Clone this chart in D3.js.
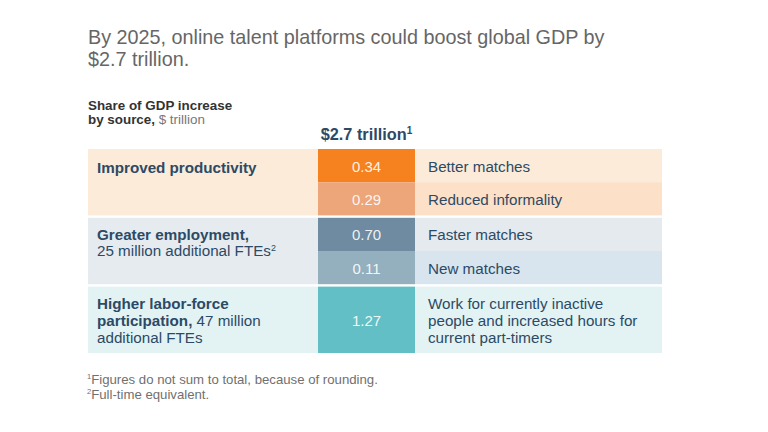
<!DOCTYPE html>
<html><head><meta charset="utf-8">
<script src="https://cdn.jsdelivr.net/npm/d3@7"></script>
<style>
body{margin:0;background:#fff;}
svg{display:block;font-family:"Liberation Sans",Arial,Helvetica,sans-serif;}
</style></head><body>
<svg id="c" width="768" height="432"></svg>
<script>
// ---- data ----
const groups = ["Improved productivity", "Greater employment", "Higher labor-force participation"];
const groupLabelLines = [
  [[{t:"Improved productivity", b:true}]],
  [[{t:"Greater employment,", b:true}], [{t:"25 million additional FTEs", b:false}, {t:"2", b:false, sup:true}]],
  [[{t:"Higher labor-force", b:true}], [{t:"participation,", b:true}, {t:" 47 million", b:false}], [{t:"additional FTEs", b:false}]]
];
const sources = ["Better matches", "Reduced informality", "Faster matches", "New matches",
  "Work for currently inactive|people and increased hours for|current part-timers"];
const sourceGroup = [0, 0, 1, 1, 2];
const values = [0.34, 0.29, 0.70, 0.11, 1.27];
const total = "$2.7 trillion";
const footnotes = ["Figures do not sum to total, because of rounding.", "Full-time equivalent."];

// ---- style ----
const groupBg = ["#fdebd9", "#e6ebf0", "#e3f3f4"];
const rowBg = ["#fdebd9", "#fde0c8", "#e5eaef", "#d8e5ef", "#e3f3f4"];
const cellColor = ["#f5821f", "#eda57a", "#6e8ba1", "#94afbe", "#63bfc6"];
const textDark = "#2c4a65";
const FS = 15.2;

const svg = d3.select("#c");

// title
svg.append("text").attr("x", 88).attr("y", 44).attr("font-size", 19.8).attr("fill", "#666")
  .text("By 2025, online talent platforms could boost global GDP by");
svg.append("text").attr("x", 88).attr("y", 66).attr("font-size", 19.8).attr("fill", "#666")
  .text("$2.7 trillion.");

// subtitle
svg.append("text").attr("x", 88).attr("y", 110).attr("font-size", 13.4).attr("fill", "#333")
  .attr("font-weight", "bold").text("Share of GDP increase");
const st = svg.append("text").attr("x", 88).attr("y", 124).attr("font-size", 13.4).attr("fill", "#333");
st.append("tspan").attr("font-weight", "bold").text("by source,");
st.append("tspan").attr("fill", "#777").text(" $ trillion");

// scales
const left = 88, right = 662, valX0 = 318, valX1 = 415;
const y = d3.scaleBand().domain(d3.range(groups.length)).range([149, 353]).paddingInner(0.035);

// group backgrounds (left panel)
svg.selectAll("rect.g").data(groups).join("rect")
  .attr("x", left).attr("y", (d, i) => y(i)).attr("width", valX0 - left).attr("height", y.bandwidth())
  .attr("fill", (d, i) => groupBg[i]);

// row positions
const rows = values.map((v, i) => {
  const g = sourceGroup[i];
  const members = sourceGroup.map((gg, j) => gg === g ? j : -1).filter(j => j >= 0);
  const k = members.indexOf(i), n = members.length;
  const h = y.bandwidth() / n;
  return {v, i, g, y0: y(g) + k * h, h};
});

svg.selectAll("rect.rb").data(rows).join("rect")
  .attr("x", valX1).attr("y", d => d.y0).attr("width", right - valX1).attr("height", d => d.h)
  .attr("fill", d => rowBg[d.i]);
svg.selectAll("rect.cell").data(rows).join("rect")
  .attr("x", valX0).attr("y", d => d.y0).attr("width", valX1 - valX0).attr("height", d => d.h)
  .attr("fill", d => cellColor[d.i]);

const fmt = d3.format(".2f");
svg.selectAll("text.val").data(rows).join("text")
  .attr("x", (valX0 + valX1) / 2).attr("y", d => d.y0 + d.h / 2 + 6)
  .attr("text-anchor", "middle").attr("font-size", 15).attr("fill", "#fff").attr("fill-opacity", 0.9)
  .text(d => fmt(d.v));

// source labels
rows.forEach(d => {
  const lines = sources[d.i].split("|");
  const lh = 17;
  const start = d.y0 + d.h / 2 + 6 - (lines.length - 1) * lh / 2;
  lines.forEach((l, k) => {
    svg.append("text").attr("x", 428).attr("y", start + k * lh).attr("font-size", FS)
      .attr("fill", textDark).text(l);
  });
});

// group labels
groupLabelLines.forEach((lines, g) => {
  const lh = g === 1 ? 16 : 17;
  const start = g === 0 ? y(g) + 24 : (g === 1 ? y(g) + 22 : y(g) + y.bandwidth() / 2 + 6 - (lines.length - 1) * lh / 2);
  lines.forEach((parts, k) => {
    const t = svg.append("text").attr("x", 97).attr("y", start + k * lh).attr("font-size", FS).attr("fill", textDark);
    parts.forEach(p => {
      const ts = t.append("tspan").text(p.t).attr("font-weight", p.b ? "bold" : "normal");
      if (p.sup) ts.attr("font-size", 9).attr("dy", -5);
    });
  });
});

// total header
const th = svg.append("text").attr("x", (valX0 + valX1) / 2).attr("y", 140).attr("text-anchor", "middle")
  .attr("font-size", 16.3).attr("font-weight", "bold").attr("fill", textDark);
th.append("tspan").text(total);
th.append("tspan").attr("font-size", 10).attr("dy", -6).text("1");

// footnotes
footnotes.forEach((f, i) => {
  const t = svg.append("text").attr("x", 87).attr("y", 384 + i * 15).attr("font-size", 13.2).attr("fill", "#707070");
  t.append("tspan").attr("font-size", 7.5).attr("dy", -5).text(String(i + 1));
  t.append("tspan").attr("dy", 5).text(f);
});
</script>
</body></html>
